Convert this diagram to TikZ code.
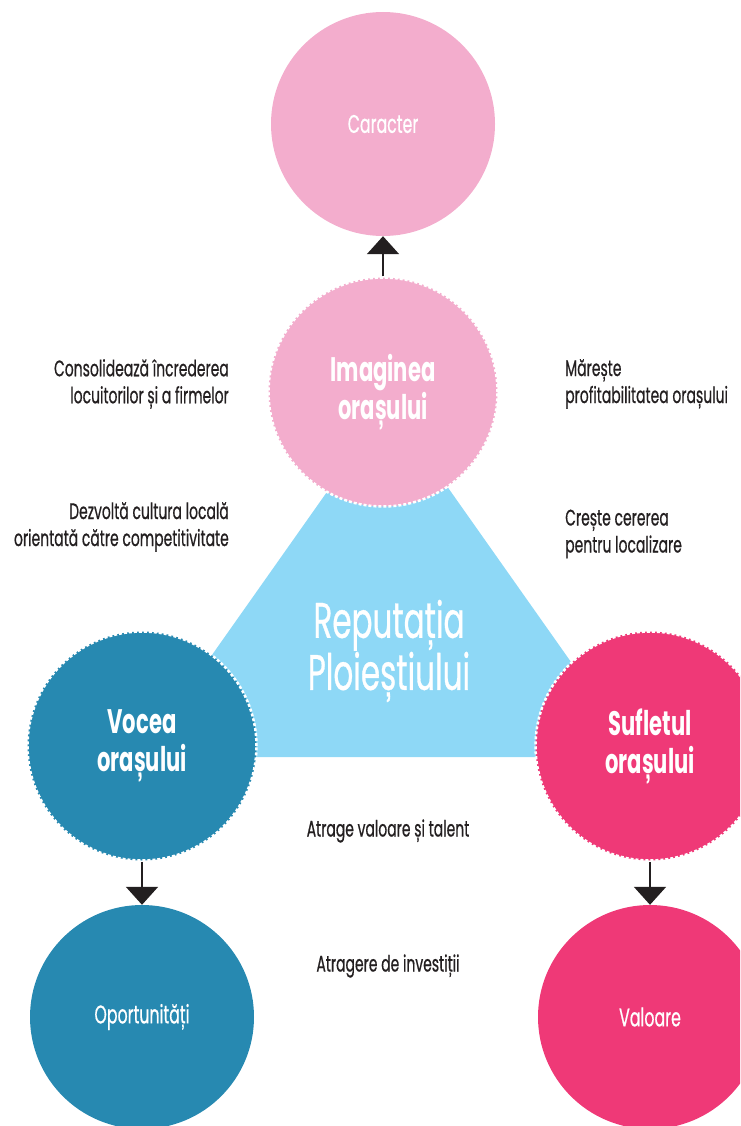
\documentclass[tikz,border=0pt]{standalone}
\usepackage{fontspec}
\setmainfont{Poppins}[FakeStretch=0.62]
\newfontfamily\notefont{Poppins}[FakeStretch=0.62,FakeBold=0.6]
\usepackage{tikz}
\usetikzlibrary{arrows.meta,positioning,backgrounds}
\definecolor{cpink}{HTML}{F3ADCD}
\definecolor{csky}{HTML}{8ED8F6}
\definecolor{cteal}{HTML}{2789B1}
\definecolor{crose}{HTML}{EF3977}
\definecolor{cink}{HTML}{231F20}

\begin{document}
\begin{tikzpicture}[x=1pt,y=-1pt,
    bubble/.style={circle,fill=#1,text=white,minimum size=224pt,
                   inner sep=0pt,align=center,font=\notefont\fontsize{25.5}{28}\selectfont},
    core/.style={bubble=#1,draw=white,line width=2.5pt,minimum size=229pt,
                 dash pattern=on 3pt off 2pt,
                 font=\bfseries\fontsize{34}{38}\selectfont},
    note/.style={text=cink,inner sep=0pt,font=\notefont\fontsize{22.5}{27}\selectfont},
    link/.style={-{Triangle[width=32pt,length=18pt]},line width=2pt,draw=cink}]
  \path[use as bounding box,clip] (0,0) rectangle (740,1126);

  % centre triangle
  \fill[csky] (389,404) -- (638,757) -- (140,757) -- cycle;
  \node[text=white,align=center,font=\notefont\fontsize{50}{48}\selectfont]
    (rep) at (389,651) {Reputația\\Ploieștiului};

  % the three faces of the city
  \node[core=cpink] (imag) at (383,392) {Imaginea\\orașului};
  \node[core=cteal] (voce) at (142,746) {Vocea\\orașului};
  \node[core=crose] (sufl) at (650,746) {Sufletul\\orașului};

  % results
  \node[bubble=cpink] (car) at (383,124) {Caracter};
  \node[bubble=cteal] (opo) at (142,1017) {Oportunități};
  \node[bubble=crose] (val) at (650,1017) {Valoare};

  \draw[link] (imag) -- (car);
  \draw[link] (voce) -- (opo);
  \draw[link] (sufl) -- (val);

  % effects
  \node[note,align=right,anchor=east] (n1) at (229,384)
    {Consolidează încrederea\\locuitorilor și a firmelor};
  \node[note,align=right,anchor=east] (n2) at (229,527)
    {Dezvoltă cultura locală\\orientată către competitivitate};
  \node[note,align=left,anchor=west] (n3) at (565,384)
    {Mărește\\profitabilitatea orașului};
  \node[note,align=left,anchor=west] (n4) at (565,534)
    {Crește cererea\\pentru localizare};
  \node[note] (n5) at (388,831) {Atrage valoare și talent};
  \node[note] (n6) at (388,966) {Atragere de investiții};
\end{tikzpicture}
\end{document}
